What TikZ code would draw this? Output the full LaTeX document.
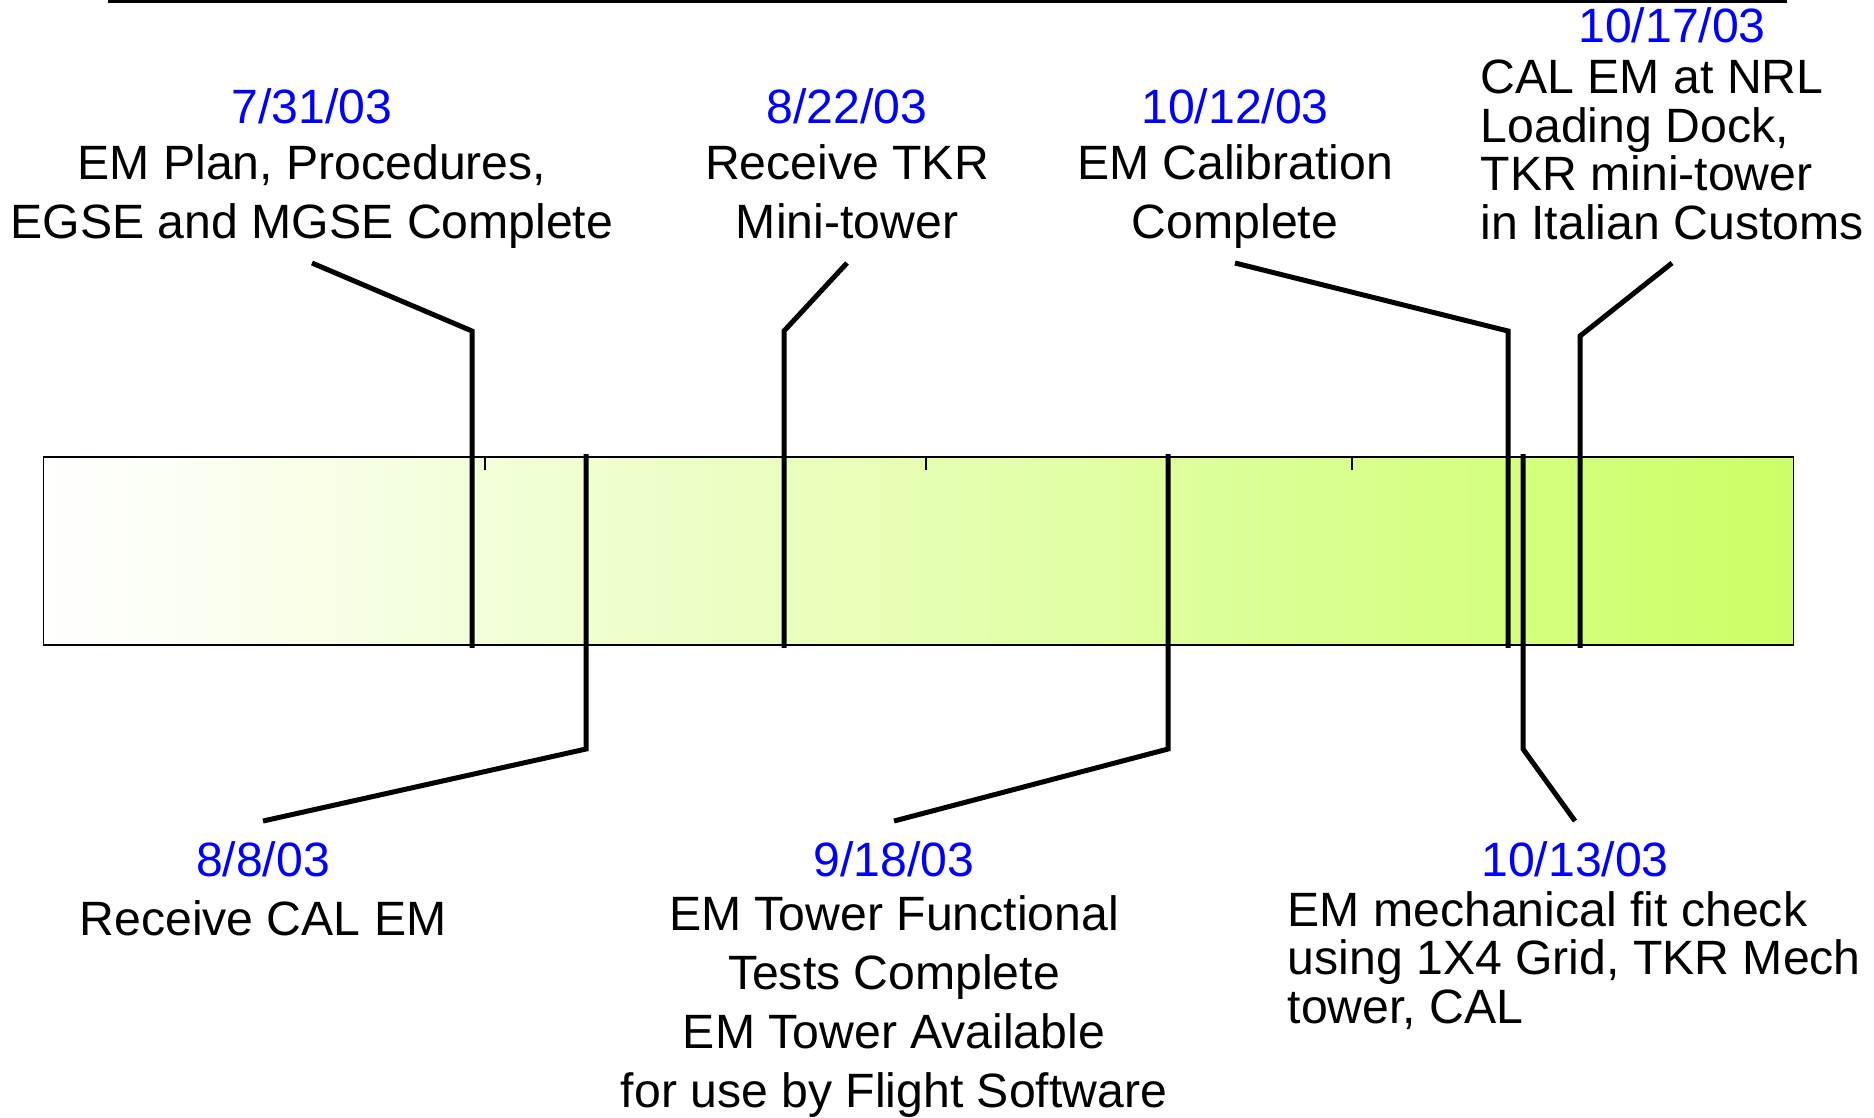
\documentclass[tikz,border=0pt]{standalone}
\usepackage{fontspec}
\setmainfont{Liberation Sans}
\usepackage{xcolor}
\usetikzlibrary{positioning,calc}
\definecolor{dateblue}{RGB}{0,0,255}
\definecolor{bargreen}{RGB}{204,255,102}

\begin{document}
\begin{tikzpicture}[x=0.01cm,y=-0.01cm,
	datetext/.style={text=dateblue,font=\fontsize{13.7}{16.5}\selectfont,inner sep=0pt,anchor=base},
	desc/.style={font=\fontsize{13.7}{16.7}\selectfont,inner sep=0pt,align=center,anchor=base},
	descleft/.style={font=\fontsize{13.7}{13.75}\selectfont,inner sep=0pt,align=left,anchor=base west},
	bar/.style={draw=black,line width=0.015cm,left color=white,right color=bargreen,
		minimum width=17.49cm,minimum height=1.88cm,inner sep=0pt},
	leader/.style={line width=0.05cm,line join=miter},
	tick/.style={line width=0.012cm}]
	\useasboundingbox (0,0) rectangle (1874,1117);
	
	% rule at the top
	\draw[line width=0.03cm] (108,1.5) -- (1787,1.5);
	
	% time bar
	\node[bar] (bar) at (918.5,551) {};
	\draw[tick] (485,457) -- ++(0,13);
	\draw[tick] (926,457) -- ++(0,13);
	\draw[tick] (1352,457) -- ++(0,13);
	
	% milestones above the bar (base = last line)
	\node[datetext] (d731) at (312,123) {7/31/03};
	\node[desc] (t731) at (312,238) {EM Plan, Procedures,\\EGSE and MGSE Complete};
	\node[datetext] (d822) at (847,123) {8/22/03};
	\node[desc] (t822) at (847,238) {Receive TKR\\Mini-tower};
	\node[datetext] (d1012) at (1235,123) {10/12/03};
	\node[desc] (t1012) at (1235,238) {EM Calibration\\Complete};
	\node[datetext] (d1017) at (1672,42) {10/17/03};
	\node[descleft] (t1017) at (1480,239) {CAL EM at NRL\\Loading Dock,\\TKR mini-tower\\in Italian Customs};
	
	\coordinate (e731) at (312,263);
	\coordinate (k731) at (472,331);
	\coordinate (e822) at (847,263);
	\coordinate (k822) at (784,331);
	\coordinate (e1012) at (1235,263);
	\coordinate (k1012) at (1508,331);
	\coordinate (e1017) at (1672,263);
	\coordinate (k1017) at (1580,336);
	
	\draw[leader] (e731) -- (k731) -- ([yshift=-0.02cm]k731 |- bar.south);
	\draw[leader] (e822) -- (k822) -- ([yshift=-0.02cm]k822 |- bar.south);
	\draw[leader] (e1012) -- (k1012) -- ([yshift=-0.02cm]k1012 |- bar.south);
	\draw[leader] (e1017) -- (k1017) -- ([yshift=-0.02cm]k1017 |- bar.south);
	
	% milestones below the bar
	\node[datetext] (d808) at (263,876) {8/8/03};
	\node[desc] (t808) at (263,935) {Receive CAL EM};
	\node[datetext] (d918) at (894,876) {9/18/03};
	\node[desc] (t918) at (894,1107) {EM Tower Functional\\Tests Complete\\EM Tower Available\\for use by Flight Software};
	\node[datetext] (d1013) at (1575,876) {10/13/03};
	\node[descleft] (t1013) at (1287,1023) {EM mechanical fit check\\using 1X4 Grid, TKR Mech\\tower, CAL};
	
	\coordinate (e808) at (263,821);
	\coordinate (k808) at (586,749);
	\coordinate (e918) at (894,821);
	\coordinate (k918) at (1168,749);
	\coordinate (e1013) at (1575,821);
	\coordinate (k1013) at (1523,749);
	
	\draw[leader] (e808) -- (k808) -- ([yshift=0.02cm]k808 |- bar.north);
	\draw[leader] (e918) -- (k918) -- ([yshift=0.02cm]k918 |- bar.north);
	\draw[leader] (e1013) -- (k1013) -- ([yshift=0.02cm]k1013 |- bar.north);
\end{tikzpicture}
\end{document}
